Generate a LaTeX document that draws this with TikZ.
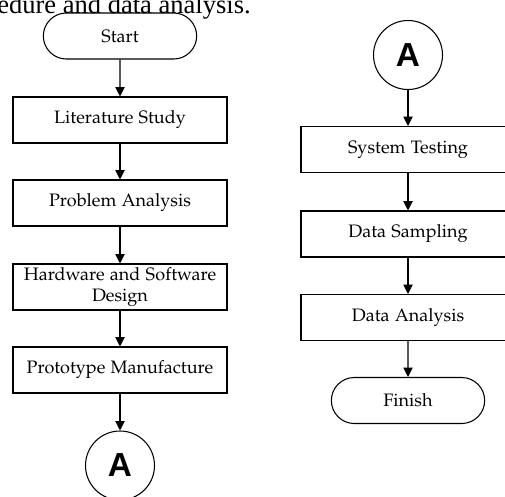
\documentclass[tikz,border=0pt]{standalone}
\usepackage[T1]{fontenc}
\usepackage{mathpazo}
\usepackage{fontspec}
\newfontfamily\connfont{Liberation Sans}
\newfontfamily\captionfont{Liberation Serif}
\usetikzlibrary{arrows.meta,shapes.misc}

\tikzset{
  boxfont/.style={font=\fontencoding{T1}\fontfamily{pplx}\fontsize{13.5}{15.5}\selectfont},
  process/.style={draw, line width=0.8pt, rectangle, minimum width=160.5pt,
    minimum height=34.5pt, align=center, inner sep=0pt, boxfont},
  terminal/.style={draw, line width=0.8pt, rounded rectangle, minimum width=115pt,
    minimum height=34.5pt, inner sep=0pt, boxfont},
  connector/.style={draw, line width=0.8pt, circle, minimum size=51.75pt, inner sep=0pt,
    font=\connfont\bfseries\fontsize{25}{25}\selectfont},
  flow/.style={line width=0.8pt, -{Triangle[length=7pt,width=7pt]}}
}

\begin{document}
\begin{tikzpicture}[x=0.75pt,y=-0.75pt]
\useasboundingbox (0,0) rectangle (505,496);
\clip (0,0) rectangle (505,496);

% caption fragment running in from the page above
\node[anchor=base west, inner sep=0pt,
  font=\captionfont\fontsize{19.9}{22}\selectfont] (cap) at (-3,13.3) {edure and data analysis.};

% left column
\node[terminal]  (start) at (120,36)    {Start};
\node[process]   (lit)   at (120,120)   {Literature Study};
\node[process]   (prob)  at (120,203)   {Problem Analysis};
\node[process]   (hw)    at (120,287)   {Hardware and Software\\Design};
\node[process]   (proto) at (120,370)   {Prototype Manufacture};
\node[connector] (a1)    at (120,465.5) {A};

% right column
\node[connector] (a2)    at (408,55)    {A};
\node[process]   (test)  at (408,149.5) {System Testing};
\node[process]   (samp)  at (408,234)   {Data Sampling};
\node[process]   (anal)  at (408,317.5) {Data Analysis};
\node[terminal]  (fin)   at (408,400.5) {Finish};

\draw[flow] (start) -- (lit);
\draw[flow] (lit)   -- (prob);
\draw[flow] (prob)  -- (hw);
\draw[flow] (hw)    -- (proto);
\draw[flow] (proto) -- (a1);

\draw[flow] (a2)   -- (test);
\draw[flow] (test) -- (samp);
\draw[flow] (samp) -- (anal);
\draw[flow] (anal) -- (fin);
\end{tikzpicture}
\end{document}
